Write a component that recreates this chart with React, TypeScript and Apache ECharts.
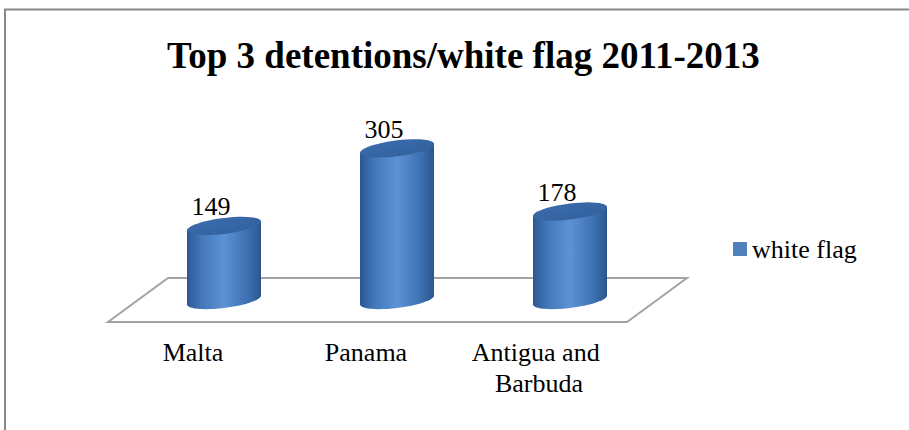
import React, { useEffect, useRef } from "react";
import * as echarts from "echarts";

const categories = ["Malta", "Panama", "Antigua and Barbuda"];
const detentions = [149, 305, 178];
const seriesName = "white flag";
const titleText = "Top 3 detentions/white flag 2011-2013";

const FONT = '"Liberation Serif", "Times New Roman", serif';

function ellipsePts(cx: number, cy: number, rx: number, ry: number, k: number) {
  const pts: number[][] = [];
  const n = 48;
  for (let i = 0; i < n; i++) {
    const t = (i / n) * Math.PI * 2;
    const c = Math.cos(t);
    const s = Math.sin(t);
    pts.push([cx + rx * c, cy + ry * s - rx * c * k]);
  }
  return pts;
}

export default function App() {
  const ref = useRef<HTMLDivElement>(null);

  useEffect(() => {
    const chart = echarts.init(ref.current!, null, { renderer: "svg" });

    const bodyGrad = new echarts.graphic.LinearGradient(0, 0, 1, 0, [
      { offset: 0, color: "#2b5893" },
      { offset: 0.2, color: "#4378bb" },
      { offset: 0.5, color: "#5d92d5" },
      { offset: 0.8, color: "#3f73b4" },
      { offset: 1, color: "#2a5690" },
    ]);
    const topGrad = new echarts.graphic.LinearGradient(0, 0, 1, 1, [
      { offset: 0, color: "#3d6eae" },
      { offset: 1, color: "#2f5e9b" },
    ]);

    const rx = 37;
    const ry = 8;
    const k = 0.12;
    const depthShift = 31;

    chart.setOption({
      animation: false,
      backgroundColor: "#ffffff",
      title: {
        text: titleText,
        left: 167,
        top: 37,
        padding: 0,
        textStyle: {
          fontFamily: FONT,
          fontSize: 37,
          fontWeight: "bold",
          color: "#000",
          lineHeight: 37,
        },
      },
      legend: {
        data: [{ name: seriesName, icon: "rect" }],
        left: 733,
        top: 234,
        padding: 0,
        itemWidth: 14,
        itemHeight: 14,
        itemGap: 5,
        textStyle: {
          fontFamily: FONT,
          fontSize: 26,
          color: "#000",
          lineHeight: 30,
          padding: [0, 0, 0, 0],
        },
      },
      grid: { left: 106.5, right: 283.5, top: 126, bottom: 130 },
      xAxis: {
        type: "category",
        data: categories,
        axisLine: { show: false },
        axisTick: { show: false },
        splitLine: { show: false },
        axisLabel: {
          interval: 0,
          margin: 37,
          fontFamily: FONT,
          fontSize: 26,
          lineHeight: 31,
          color: "#000",
          width: 160,
          overflow: "break",
          align: "center",
        },
      },
      yAxis: { type: "value", min: 0, max: 350, show: false },
      graphic: [
        {
          type: "rect",
          z: -10,
          shape: { x: 5, y: 9.5, width: 960, height: 500 },
          style: { fill: "none", stroke: "#878787", lineWidth: 2 },
        },
        {
          type: "polygon",
          z: -5,
          shape: {
            points: [
              [168, 278],
              [687, 278],
              [627, 322],
              [108, 322],
            ],
          },
          style: { fill: "#ffffff", stroke: "#a3a3a3", lineWidth: 2 },
        },
      ],
      series: [
        {
          type: "custom",
          name: seriesName,
          z: 5,
          itemStyle: { color: "#4f81bd" },
          encode: { x: 0, y: 1 },
          data: detentions.map((v, i) => [i, v]),
          renderItem: (params: any, api: any) => {
            const cat = api.value(0);
            const val = api.value(1);
            const top = api.coord([cat, val]);
            const base = api.coord([cat, 0]);
            const cx = top[0] + depthShift;
            const ty = top[1];
            const by = base[1];
            const d = rx * k;
            return {
              type: "group",
              children: [
                {
                  type: "polygon",
                  shape: { points: ellipsePts(cx, by, rx, ry, k) },
                  style: { fill: bodyGrad },
                },
                {
                  type: "polygon",
                  shape: {
                    points: [
                      [cx - rx, ty + d],
                      [cx + rx, ty - d],
                      [cx + rx, by - d],
                      [cx - rx, by + d],
                    ],
                  },
                  style: { fill: bodyGrad },
                },
                {
                  type: "polygon",
                  shape: { points: ellipsePts(cx, ty, rx, ry, k) },
                  style: { fill: topGrad },
                },
                {
                  type: "text",
                  x: cx - 13,
                  y: ty - 6,
                  style: {
                    text: String(val),
                    font: `26px ${FONT}`,
                    fill: "#000",
                    align: "center",
                    verticalAlign: "bottom",
                    textAlign: "center",
                    textVerticalAlign: "bottom",
                  },
                },
              ],
            };
          },
        },
      ],
    });

    return () => chart.dispose();
  }, []);

  return (
    <div
      ref={ref}
      style={{ position: "fixed", left: 0, top: 0, width: 909, height: 430 }}
    />
  );
}
